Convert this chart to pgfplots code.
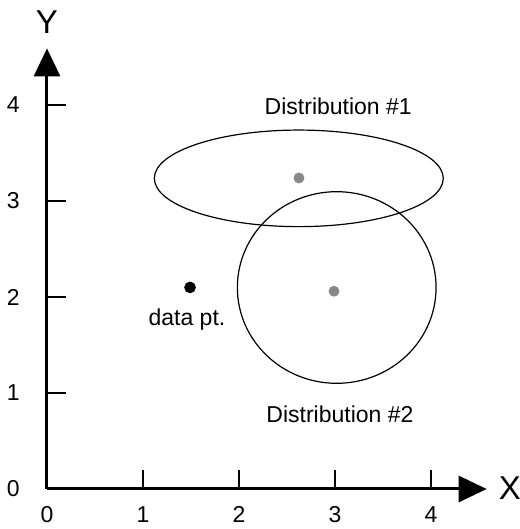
\documentclass[border=0pt]{standalone}
\usepackage{pgfplots}
\pgfplotsset{compat=1.18}
\usetikzlibrary{arrows.meta}
\usepackage{fontspec}
\setmainfont{Liberation Sans}
\definecolor{dotgray}{RGB}{136,136,136}

\begin{document}
\begin{tikzpicture}
\begin{axis}[
    x=48pt, y=48pt,
    xmin=0, xmax=4.58,
    ymin=0, ymax=4.59,
    axis lines=left,
    x axis line style={line width=1.5pt, -{Triangle[length=14pt,width=13pt]}},
    y axis line style={line width=1.5pt, -{Triangle[length=14pt,width=13pt]}},
    xtick={0,...,4}, ytick={0,...,4},
    tick align=inside,
    major tick length=9.5pt,
    tick style={line width=0.7pt, black},
    clip=false,
    /pgf/number format/assume math mode=true,
    tick label style={font=\fontsize{11.5}{13}\selectfont},
    xticklabel style={inner sep=0pt, anchor=north, yshift=-8.5pt},
    yticklabel style={inner sep=0pt, anchor=east, xshift=-13.5pt},
    xlabel={X}, ylabel={Y},
    every axis x label/.style={at={(axis cs:4.823,0.01)}, anchor=center, inner sep=0pt, font=\fontsize{16.5}{18}\selectfont},
    every axis y label/.style={at={(axis cs:0,4.865)}, anchor=center, inner sep=0pt, font=\fontsize{16.5}{18}\selectfont},
]
% distributions
\draw[line width=0.6pt] (axis cs:2.623,3.236) ellipse [x radius=1.505, y radius=0.503];
\draw[line width=0.6pt] (axis cs:3.018,2.099) ellipse [x radius=1.035, y radius=0.998];

% centres and the data point
\addplot[only marks, mark=*, mark size=2.5pt, dotgray, mark options={draw=dotgray, fill=dotgray}]
    coordinates {(2.625,3.24) (2.99,2.06)};
\addplot[only marks, mark=*, mark size=2.7pt, black]
    coordinates {(1.49,2.10)};

\node[anchor=base, font=\fontsize{11.5}{13}\selectfont] at (axis cs:3.034,3.896) {Distribution \#1};
\node[anchor=base, font=\fontsize{11.5}{13}\selectfont] at (axis cs:3.052,0.6875) {Distribution \#2};
\node[anchor=base, font=\fontsize{11.5}{13}\selectfont] at (axis cs:1.458,1.708) {data pt.};

\coordinate (bl) at (axis cs:-0.4896,-0.4167);
\coordinate (tr) at (axis cs:4.927,5.094);
\end{axis}
\pgfresetboundingbox
\useasboundingbox (bl) rectangle (tr);
\end{tikzpicture}
\end{document}
